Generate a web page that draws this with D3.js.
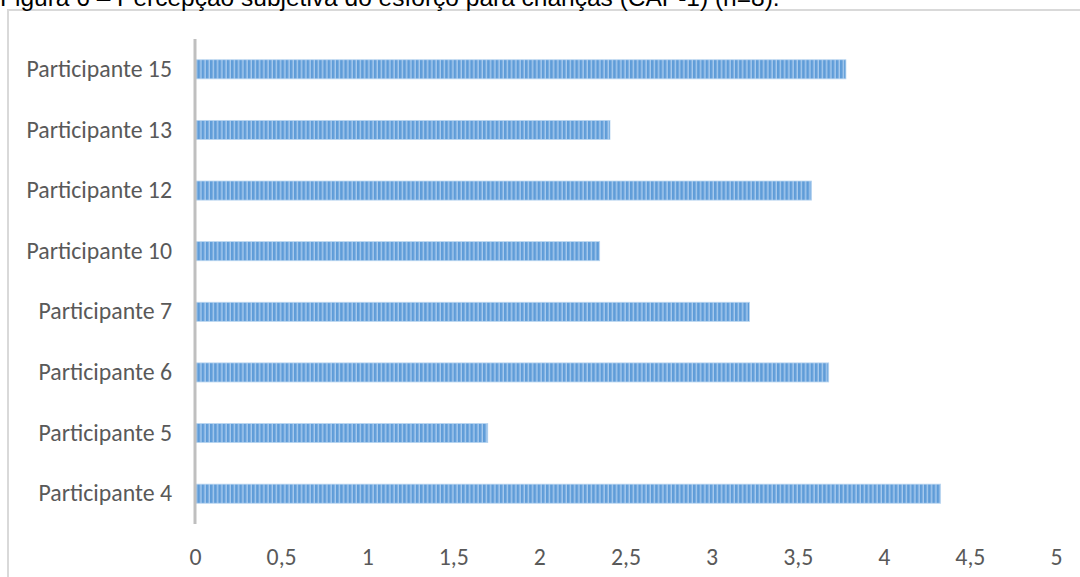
<!DOCTYPE html>
<html><head><meta charset="utf-8">
<script src="https://cdn.jsdelivr.net/npm/d3@7"></script>
<style>
html,body{margin:0;padding:0;background:#fff;overflow:hidden;}
svg{display:block;}
</style></head>
<body>
<svg id="chart" width="1080" height="577"></svg>
<script>
const titleText = "Figura 6 – Percepção subjetiva do esforço para crianças (CAP-1) (n=8).";
const categories = ["Participante 15","Participante 13","Participante 12","Participante 10","Participante 7","Participante 6","Participante 5","Participante 4"];
const values = [3.78, 2.41, 3.58, 2.35, 3.22, 3.68, 1.70, 4.33];
const tickValues = [0,0.5,1,1.5,2,2.5,3,3.5,4,4.5,5];
const tickLabels = ["0","0,5","1","1,5","2","2,5","3","3,5","4","4,5","5"];

const svg = d3.select("#chart");
const W = 1080, H = 577;
const m = {left:195, right:24, top:39, bottom:53};

const x = d3.scaleLinear().domain([0,5]).range([m.left, 1056]);
const y = d3.scaleBand().domain(categories).range([m.top, H - m.bottom]).paddingInner(0.685).paddingOuter(0.3425);

// pattern for striped bars
const defs = svg.append("defs");
const pat = defs.append("pattern").attr("id","stripes").attr("patternUnits","userSpaceOnUse")
  .attr("x", 0).attr("width",4.2).attr("height",40);
pat.append("rect").attr("width",4.2).attr("height",40).attr("fill","#a9cbee");
pat.append("rect").attr("x",0).attr("width",2.4).attr("height",40).attr("fill","#5e9cd8");
pat.append("rect").attr("x",2.4).attr("width",0.8).attr("height",40).attr("fill","#84b4e4");

// outer border
svg.append("rect").attr("x",8).attr("y",10).attr("width",W+20).attr("height",H+20)
  .attr("fill","none").attr("stroke","#d9d9d9").attr("stroke-width",2);

// title (cropped at top, as in the reference)
svg.append("text").attr("x",0).attr("y",6).attr("font-family","Liberation Sans, Arial, sans-serif")
  .attr("font-size",24.5).attr("fill","#000").text(titleText);

// bars
svg.append("g").selectAll("rect").data(values).join("rect")
  .attr("x", x(0))
  .attr("y", (d,i) => y(categories[i]))
  .attr("width", d => x(d) - x(0))
  .attr("height", y.bandwidth())
  .attr("fill","url(#stripes)")
  .attr("stroke","#b9d5f0").attr("stroke-width",0.8);

// category axis
const yAxis = svg.append("g").attr("transform",`translate(${x(0)},0)`)
  .call(d3.axisLeft(y).tickSize(0).tickPadding(23));
yAxis.select(".domain").remove();
yAxis.selectAll("text").attr("font-family","Carlito, Lato, sans-serif").attr("font-size",23.8).attr("fill","#595959");

// vertical axis line
svg.append("line").attr("x1",x(0)).attr("x2",x(0)).attr("y1",m.top).attr("y2",H - m.bottom)
  .attr("stroke","#bfbfbf").attr("stroke-width",3);

// value axis
const xAxis = svg.append("g").attr("transform",`translate(0,${H - m.bottom})`)
  .call(d3.axisBottom(x).tickValues(tickValues).tickFormat((d,i)=>tickLabels[i]).tickSize(0).tickPadding(24));
xAxis.select(".domain").remove();
xAxis.selectAll("text").attr("font-family","Carlito, Lato, sans-serif").attr("font-size",23.8).attr("fill","#595959");
</script>
</body></html>
